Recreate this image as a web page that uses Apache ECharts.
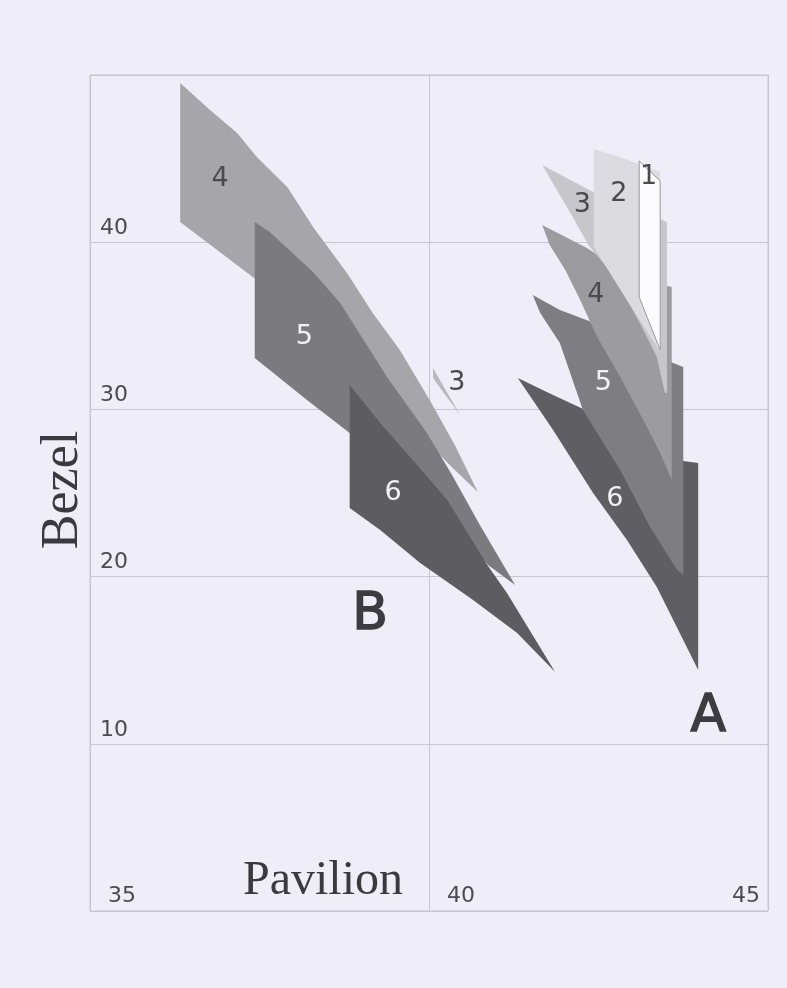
<!DOCTYPE html>
<html>
<head>
<meta charset="UTF-8">
<title>Bezel / Pavilion</title>
<script src="https://cdn.jsdelivr.net/npm/echarts@6/dist/echarts.min.js"></script>
<style>
html, body { margin: 0; padding: 0; background: #efeef8; }
#chart { width: 787px; height: 988px; }
</style>
</head>
<body>
<div id="chart"></div>
<script>
// tick labels
var xTicks = [35, 40, 45];
var yTicks = [10, 20, 30, 40];

// region outlines, [pavilion, bezel] — group B
var b4 = [[36.33,49.52],[36.77,47.91],[37.17,46.53],[37.46,45.10],[37.91,43.30],[38.29,40.91],[38.79,38.16],[39.17,35.77],[39.57,33.55],[40.01,30.56],[40.38,27.87],[40.72,25.06],[40.35,26.50],[39.87,28.47],[39.28,31.16],[38.54,34.15],[37.95,36.24],[37.40,37.92],[36.33,41.21]];
var b5 = [[37.43,41.21],[37.65,40.61],[38.29,38.22],[38.69,36.36],[39.38,31.94],[39.97,28.59],[40.34,26.08],[40.75,23.09],[41.27,19.50],[40.87,20.69],[40.31,23.39],[39.57,26.38],[38.83,28.59],[38.20,30.56],[37.43,33.07]];
var b6 = [[38.83,31.46],[39.28,29.19],[39.76,26.97],[40.27,24.58],[40.86,20.69],[41.15,19.02],[41.86,14.29],[41.30,16.63],[40.65,18.60],[39.87,20.81],[39.28,22.79],[38.83,24.10]];
var b3 = [[40.06,32.48],[40.16,31.76],[40.46,29.67],[40.24,30.86],[40.06,31.88]];

// group A
var a6 = [[41.31,31.88],[41.83,30.86],[42.37,29.84],[42.96,28.17],[43.55,27.09],[43.75,26.91],[43.97,26.79],[43.97,14.41],[43.36,19.38],[42.92,22.19],[42.42,25.00],[41.83,28.77]];
var a5 = [[41.53,36.84],[41.93,35.95],[42.40,35.23],[42.96,34.15],[43.41,33.25],[43.60,32.78],[43.75,32.54],[43.75,20.10],[43.66,20.39],[43.26,22.97],[42.82,26.38],[42.27,29.96],[41.93,33.97],[41.64,35.77]];
var a4 = [[41.67,41.03],[42.33,39.65],[42.82,38.34],[43.33,37.56],[43.58,37.32],[43.58,25.78],[43.41,27.39],[43.16,29.37],[42.82,31.94],[42.48,34.33],[42.23,36.54],[42.01,38.34],[41.78,39.83]];
var a3 = [[41.67,44.62],[42.42,43.00],[42.96,41.93],[43.44,41.33],[43.51,41.21],[43.51,30.98],[43.48,30.98],[43.36,33.13],[43.11,35.17],[42.92,36.54],[42.63,38.46],[42.35,39.83],[42.12,41.51]];
var a2 = [[42.43,45.57],[42.82,45.10],[43.41,44.20],[43.41,33.43],[42.89,36.72],[42.43,39.71]];
var a1 = [[43.10,44.86],[43.41,43.66],[43.41,33.55],[43.10,36.72]];

// region labels and where they sit
var labelText = ['4', '5', '6', '3', 'B', '1', '2', '3', '4', '5', '6', 'A'];
var labelAt = [[36.92,43.78],[38.16,34.33],[39.47,25.00],[40.41,31.58],[39.13,17.70],[43.24,43.90],[42.80,42.88],[42.26,42.22],[42.46,36.84],[42.57,31.58],[42.74,24.64],[44.12,11.60]];

// drawing order back to front, with fills
var shapes = [b4, b5, b6, b3, a6, a5, a4, a3, a2, a1];
var fills = ['#a6a6aa', '#7b7b7f', '#5d5d61', '#b8b8bd', '#5f5f63', '#7e7e82', '#9c9ca0', '#c6c6cb', '#dbdbe0', '#fbfbfd'];
var labelColors = ['#4a4a4e', '#f2f2f6', '#f2f2f6', '#4a4a4e', '#3c3c40', '#4a4a4e', '#4a4a4e', '#4a4a4e', '#4a4a4e', '#f2f2f6', '#f2f2f6', '#3c3c40'];

var chart = echarts.init(document.getElementById('chart'));

var series = shapes.map(function (pts, k) {
    return {
        type: 'custom',
        coordinateSystem: 'cartesian2d',
        silent: true,
        data: pts,
        renderItem: function (params, api) {
            if (params.dataIndex !== 0) return;
            return {
                type: 'polygon',
                shape: { points: pts.map(function (p) { return api.coord(p); }) },
                style: {
                    fill: fills[k],
                    stroke: k === shapes.length - 1 ? '#9a9a9e' : null,
                    lineWidth: 1
                }
            };
        }
    };
});

series.push({
    type: 'custom',
    coordinateSystem: 'cartesian2d',
    silent: true,
    z: 5,
    data: labelAt,
    renderItem: function (params, api) {
        var i = params.dataIndex;
        var c = api.coord([api.value(0), api.value(1)]);
        var big = labelText[i] === 'A' || labelText[i] === 'B';
        return {
            type: 'text',
            style: {
                text: labelText[i],
                x: c[0],
                y: c[1],
                align: 'center',
                verticalAlign: 'middle',
                fontFamily: 'DejaVu Sans',
                fontSize: big ? 52 : 27,
                fill: labelColors[i],
                stroke: big ? labelColors[i] : null,
                lineWidth: big ? 1.5 : 0
            }
        };
    }
});

var option = {
    backgroundColor: '#efeef8',
    animation: false,
    grid: {
        left: 90, right: 19, top: 75, bottom: 77,
        show: true, borderColor: '#c6c5d0', borderWidth: 1
    },
    xAxis: {
        type: 'value', min: 35, max: 45, interval: 5,
        axisLine: { show: false }, axisTick: { show: false },
        splitLine: { lineStyle: { color: '#c6c5d0', width: 1 } },
        axisLabel: {
            inside: true, margin: 4, align: 'left', verticalAlign: 'bottom',
            padding: [0, 8, 0, 18], alignMaxLabel: 'right',
            color: '#4a4a50', fontFamily: 'DejaVu Sans', fontSize: 22,
            formatter: function (v) { return xTicks.indexOf(v) >= 0 ? String(v) : ''; }
        }
    },
    yAxis: {
        type: 'value', min: 0, max: 50, interval: 10,
        axisLine: { show: false }, axisTick: { show: false },
        splitLine: { lineStyle: { color: '#c6c5d0', width: 1 } },
        axisLabel: {
            inside: true, margin: 0, align: 'left', verticalAlign: 'bottom',
            padding: [0, 0, 3, 10],
            color: '#4a4a50', fontFamily: 'DejaVu Sans', fontSize: 22,
            formatter: function (v) { return yTicks.indexOf(v) >= 0 ? String(v) : ''; }
        }
    },
    graphic: [
        {
            type: 'text', x: 63, y: 490, rotation: Math.PI / 2,
            style: { text: 'Bezel', align: 'center', verticalAlign: 'middle',
                     fontFamily: 'Liberation Serif', fontSize: 52, fill: '#3a3a3e' }
        },
        {
            type: 'text', x: 323, y: 881,
            style: { text: 'Pavilion', align: 'center', verticalAlign: 'middle',
                     fontFamily: 'Liberation Serif', fontSize: 48, fill: '#3a3a3e' }
        }
    ],
    series: series
};

chart.setOption(option);
</script>
</body>
</html>
